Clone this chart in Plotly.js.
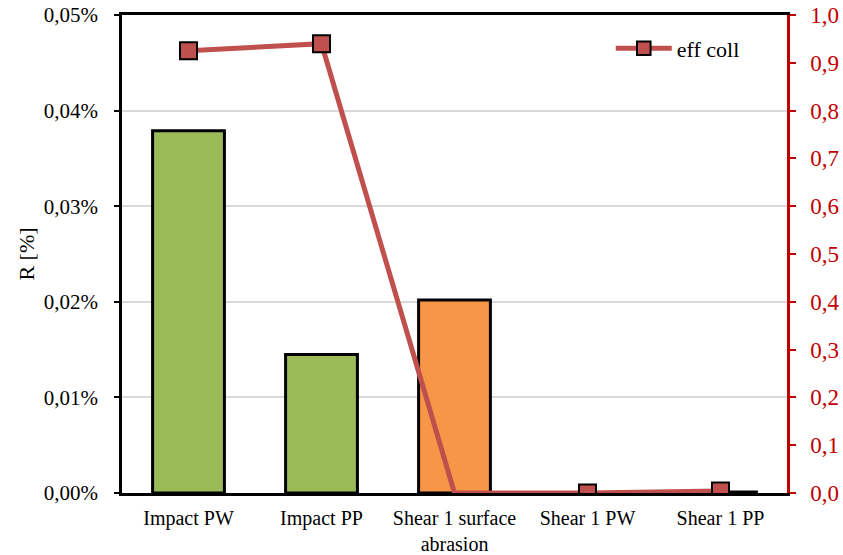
<!DOCTYPE html>
<html><head><meta charset="utf-8">
<script src="https://cdn.plot.ly/plotly-3.0.1.min.js"></script>
<style>body{margin:0;background:#fff}#c{width:843px;height:555px}</style>
</head><body><div id="c"></div>
<script>
const categories = ["Impact PW", "Impact PP", "Shear 1 surface<br>abrasion", "Shear 1 PW", "Shear 1 PP"];
const rValues = [0.0379, 0.0145, 0.0202, 0.0, 0.0001];
const barColors = ["#9bbb59", "#9bbb59", "#f79646", "#9bbb59", "#9bbb59"];
const effColl = [0.925, 0.94, 0.0, 0.0, 0.004];
const leftTicks = [0, 0.01, 0.02, 0.03, 0.04, 0.05];
const leftTickText = ["0,00%", "0,01%", "0,02%", "0,03%", "0,04%", "0,05%"];
const rightTicks = [0,0.1,0.2,0.3,0.4,0.5,0.6,0.7,0.8,0.9,1.0];
const rightTickText = ["0,0","0,1","0,2","0,3","0,4","0,5","0,6","0,7","0,8","0,9","1,0"];

const font = "'Liberation Serif', 'Times New Roman', serif";
const data = [
  {type:"bar", x:categories, y:rValues, width:0.54, showlegend:false,
   marker:{color:barColors, line:{color:"#000", width:3}}, yaxis:"y"},
  {type:"scatter", mode:"lines+markers", x:categories, y:effColl, name:"eff coll",
   yaxis:"y2", line:{color:"#c0504d", width:5},
   marker:{symbol:"square", size:[17,17,0,17,17], opacity:1, color:"#c0504d", line:{color:"#000", width:2}}}
];
const layout = {
  width:843, height:555, margin:{l:122, r:56, t:15, b:62},
  paper_bgcolor:"#fff", plot_bgcolor:"#fff",
  font:{family:font, color:"#000", size:20},
  xaxis:{showline:true, linecolor:"#000", linewidth:2.5, mirror:true, ticks:"", showgrid:false,
         tickfont:{size:20, family:font}, ticklabelstandoff:5},
  yaxis:{range:[0,0.05], tickvals:leftTicks, ticktext:leftTickText, showline:true, linecolor:"#000",
         linewidth:2.5, ticks:"outside", ticklen:5, tickwidth:2, tickcolor:"#000", gridcolor:"#d9d9d9", gridwidth:1.5,
         zeroline:false, tickfont:{size:21, family:font}, ticklabelstandoff:12,
         title:{text:"R [%]", font:{size:22, family:font}, standoff:4}},
  yaxis2:{range:[0,1.0], tickvals:rightTicks, ticktext:rightTickText, overlaying:"y", side:"right",
          showline:true, linecolor:"#c00000", linewidth:2.5, ticks:"outside", ticklen:6, tickwidth:2, tickcolor:"#c00000",
          showgrid:false, zeroline:false, tickfont:{size:23, color:"#c00000", family:font}, ticklabelstandoff:10},
  legend:{x:0.735, y:0.93, xanchor:"left", yanchor:"middle", bgcolor:"rgba(0,0,0,0)",
          itemwidth:56, font:{size:22, family:font}},
  bargap:0.46
};
Plotly.newPlot("c", data, layout, {displayModeBar:false});
</script></body></html>
